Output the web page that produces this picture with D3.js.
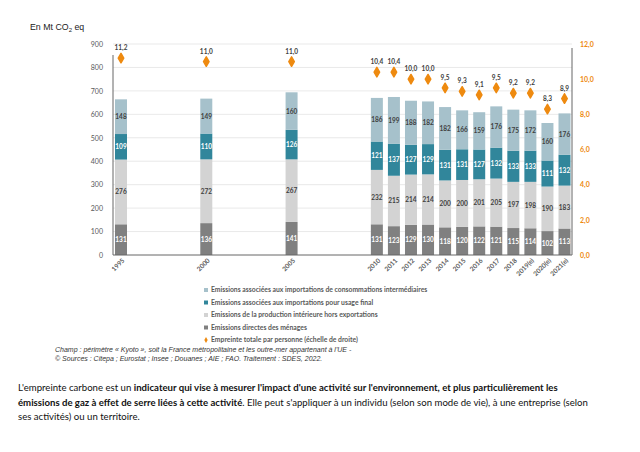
<!DOCTYPE html>
<html>
<head>
<meta charset="utf-8">
<script src="https://cdn.jsdelivr.net/npm/d3@7"></script>
<style>
  body { margin: 0; background: #fff; }
  svg text { font-family: Lato, "Open Sans", sans-serif; }
</style>
</head>
<body>
<svg id="chart" width="640" height="452"></svg>
<script>
// data
var years = [1995, 2000, 2005, 2010, 2011, 2012, 2013, 2014, 2015, 2016, 2017, 2018, 2019, 2020, 2021];
var yearLabels = ["1995", "2000", "2005", "2010", "2011", "2012", "2013", "2014", "2015", "2016", "2017", "2018", "2019(e)", "2020(e)", "2021(e)"];
var menages = [131, 136, 141, 131, 123, 129, 130, 118, 120, 122, 121, 115, 114, 102, 113];
var productionInterieure = [276, 272, 267, 232, 215, 214, 214, 200, 200, 201, 205, 197, 198, 190, 183];
var importsFinal = [109, 110, 126, 121, 137, 127, 129, 131, 131, 127, 132, 133, 133, 111, 132];
var importsInter = [148, 149, 160, 186, 199, 188, 182, 182, 166, 159, 176, 175, 172, 160, 176];
var parPersonne = [11.2, 11.0, 11.0, 10.4, 10.4, 10.0, 10.0, 9.5, 9.3, 9.1, 9.5, 9.2, 9.2, 8.3, 8.9];
var leftTicks = [0, 100, 200, 300, 400, 500, 600, 700, 800, 900];
var rightTicks = [0, 2, 4, 6, 8, 10, 12];

var series = [
  {name: "Emissions directes des ménages", values: menages, color: "#808080", text: "#fff"},
  {name: "Emissions de la production intérieure hors exportations", values: productionInterieure, color: "#d3d3d3", text: "#404040"},
  {name: "Emissions associées aux importations pour usage final", values: importsFinal, color: "#31869b", text: "#fff"},
  {name: "Emissions associées aux importations de consommations intermédiaires", values: importsInter, color: "#a6c1cb", text: "#404040"}
];
var orange = "#ee8a10";

var svg = d3.select("#chart");
var fmt = function(v) { return d3.format(".1f")(v).replace(".", ","); };

var x = d3.scaleLinear().domain([1995, 2021]).range([121, 564.5]);
var y = d3.scaleLinear().domain([0, 900]).range([255, 44]);
var y2 = d3.scaleLinear().domain([0, 12]).range([255, 44]);
var left = 113, right = 572, barW = 12;

// title
var t = svg.append("text").attr("x", 30).attr("y", 30).attr("font-size", 8.8).attr("fill", "#222")
  .style("font-family", "'Liberation Sans', Arial, sans-serif");
t.append("tspan").text("En Mt CO");
t.append("tspan").attr("font-size", 6).attr("dy", 2).text("2");
t.append("tspan").attr("dy", -2).text(" eq");

// gridlines
svg.append("g").selectAll("line").data(leftTicks.slice(1))
  .enter().append("line")
  .attr("x1", left).attr("x2", right)
  .attr("y1", function(d) { return y(d); }).attr("y2", function(d) { return y(d); })
  .attr("stroke", "#e3e3e3").attr("stroke-width", 0.8);

// left axis
var gl = svg.append("g").attr("transform", "translate(" + left + ",0)")
  .call(d3.axisLeft(y).tickValues(leftTicks).tickSize(0).tickPadding(10));
gl.select(".domain").remove();
gl.selectAll("text").attr("font-size", 7).attr("fill", "#595959").style("font-family", "Lato, sans-serif");

// right axis
var gr = svg.append("g").attr("transform", "translate(" + right + ",0)")
  .call(d3.axisRight(y2).tickValues(rightTicks).tickSize(0).tickPadding(8).tickFormat(fmt));
gr.select(".domain").remove();
gr.selectAll("text").attr("font-size", 7).attr("font-weight", "bold").attr("fill", orange);

// stacked bars
var rows = years.map(function(yr, i) {
  var r = {year: yr};
  series.forEach(function(s, k) { r["s" + k] = s.values[i]; });
  return r;
});
var stack = d3.stack().keys(series.map(function(s, k) { return "s" + k; }))(rows);

stack.forEach(function(layer, k) {
  var g = svg.append("g");
  g.selectAll("rect").data(layer).enter().append("rect")
    .attr("x", function(d) { return x(d.data.year) - barW / 2; })
    .attr("width", barW)
    .attr("y", function(d) { return y(d[1]); })
    .attr("height", function(d) { return y(d[0]) - y(d[1]); })
    .attr("fill", series[k].color);
  g.selectAll("text").data(layer).enter().append("text")
    .attr("x", function(d) { return x(d.data.year); })
    .attr("y", function(d) { return (y(d[0]) + y(d[1])) / 2 + 2.5; })
    .attr("text-anchor", "middle").attr("font-size", 6.5).attr("font-weight", "bold")
    .attr("fill", series[k].text)
    .text(function(d, i) { return series[k].values[i]; });
});

// axis lines
svg.append("line").attr("x1", left).attr("x2", left).attr("y1", 55).attr("y2", 255).attr("stroke", "#666").attr("stroke-width", 1);
svg.append("line").attr("x1", right).attr("x2", right).attr("y1", 48).attr("y2", 255).attr("stroke", "#666").attr("stroke-width", 1);
svg.append("line").attr("x1", left).attr("x2", right).attr("y1", 255).attr("y2", 255).attr("stroke", "#666").attr("stroke-width", 1);

// x labels
svg.append("g").selectAll("text").data(years).enter().append("text")
  .attr("transform", function(d) { return "translate(" + (x(d) + 4) + ",261) rotate(-45)"; })
  .attr("text-anchor", "end").attr("font-size", 6.5).attr("font-weight", "bold").attr("fill", "#595959")
  .text(function(d, i) { return yearLabels[i]; });

// per person markers
var mk = svg.append("g");
mk.selectAll("path").data(parPersonne).enter().append("path")
  .attr("transform", function(d, i) { return "translate(" + x(years[i]) + "," + y2(d) + ")"; })
  .attr("d", d3.symbol().type(d3.symbolDiamond).size(26))
  .attr("fill", orange).attr("stroke", orange).attr("stroke-width", 1.5).attr("stroke-linejoin", "round");
mk.selectAll("text").data(parPersonne).enter().append("text")
  .attr("x", function(d, i) { return x(years[i]); })
  .attr("y", function(d) { return y2(d) - 8; })
  .attr("text-anchor", "middle").attr("font-size", 6.5).attr("font-weight", "bold").attr("fill", "#404040")
  .text(fmt);

// legend
var legendItems = series.slice().reverse().map(function(s) { return {name: s.name, color: s.color, dot: false}; });
legendItems.push({name: "Empreinte totale par personne (échelle de droite)", color: orange, dot: true});
var lg = svg.append("g").selectAll("g").data(legendItems).enter().append("g")
  .attr("transform", function(d, i) { return "translate(205," + (292 + i * 12.5) + ")"; });
lg.append("path")
  .attr("d", function(d) { return d.dot ? d3.symbol().type(d3.symbolDiamond).size(10)() : "M-2,-2h4v4h-4z"; })
  .attr("transform", "translate(1,-2)")
  .attr("fill", function(d) { return d.color; });
lg.append("text").attr("x", 6).attr("y", 0).attr("font-size", 6.8).attr("font-weight", "bold").attr("fill", "#595959")
  .text(function(d) { return d.name; });

// notes
var notes = ["Champ : périmètre « Kyoto », soit la France métropolitaine et les outre-mer appartenant à l'UE -",
             "© Sources : Citepa ; Eurostat ; Insee ; Douanes ; AIE ; FAO. Traitement : SDES, 2022."];
svg.append("g").selectAll("text").data(notes).enter().append("text")
  .attr("x", 55).attr("y", function(d, i) { return 352 + i * 8.5; })
  .attr("font-size", 7).attr("font-style", "italic").attr("fill", "#333")
  .style("font-family", "'Liberation Sans', Arial, sans-serif")
  .text(function(d) { return d; });

// paragraph
var para = [
  [["L'empreinte carbone est un ", false], ["indicateur qui vise à mesurer l'impact d'une activité sur l'environnement, et plus particulièrement les", true]],
  [["émissions de gaz à effet de serre liées à cette activité", true], [". Elle peut s'appliquer à un individu (selon son mode de vie), à une entreprise (selon", false]],
  [["ses activités) ou un territoire.", false]]
];
para.forEach(function(line, i) {
  var tx = svg.append("text").attr("x", 18).attr("y", 391 + i * 14.5).attr("font-size", 9.6).attr("fill", "#111");
  line.forEach(function(p) {
    tx.append("tspan").attr("font-weight", p[1] ? "bold" : "normal").text(p[0]);
  });
});
</script>
</body>
</html>
